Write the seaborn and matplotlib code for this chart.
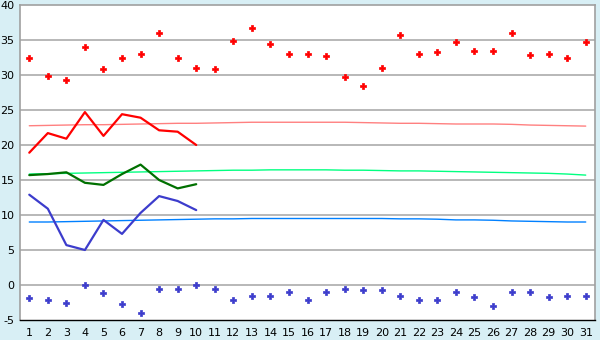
import matplotlib
matplotlib.use("Agg")
import matplotlib.pyplot as plt
import seaborn as sns
import numpy as np

days = list(range(1, 32))

max_temp = [32.4, 29.9, 29.3, 34.0, 30.9, 32.4, 33.0, 36.0, 32.4, 31.0,
            30.9, 34.9, 36.7, 34.4, 33.0, 33.0, 32.7, 29.7, 28.4, 31.0,
            35.7, 33.0, 33.3, 34.7, 33.4, 33.4, 36.0, 32.9, 33.0, 32.4, 34.7]
min_temp = [-1.9, -2.1, -2.6, 0.0, -1.1, -2.7, -4.0, -0.6, -0.6, 0.0,
            -0.6, -2.1, -1.6, -1.6, -1.0, -2.1, -1.0, -0.6, -0.7, -0.7,
            -1.6, -2.1, -2.1, -1.0, -1.7, -3.0, -1.0, -1.0, -1.7, -1.6, -1.6]

days_obs = list(range(1, 11))
avg_max = [18.9, 21.7, 20.9, 24.7, 21.3, 24.4, 23.9, 22.1, 21.9, 20.0]
avg_mean = [15.7, 15.85, 16.1, 14.6, 14.3, 15.85, 17.2, 15.0, 13.8, 14.4]
avg_min = [12.9, 10.9, 5.7, 5.0, 9.3, 7.3, 10.3, 12.7, 12.0, 10.7]

norm_max = [22.75, 22.8, 22.85, 22.9, 22.9, 22.95, 23.0, 23.05, 23.1, 23.1,
            23.15, 23.2, 23.25, 23.25, 23.25, 23.25, 23.25, 23.25, 23.2, 23.15,
            23.1, 23.1, 23.05, 23.0, 23.0, 23.0, 22.95, 22.85, 22.8, 22.75, 22.7]
norm_mean = [15.85, 15.9, 15.95, 16.0, 16.05, 16.1, 16.15, 16.2, 16.25, 16.3,
             16.35, 16.4, 16.4, 16.45, 16.45, 16.45, 16.45, 16.4, 16.4, 16.35,
             16.3, 16.3, 16.25, 16.2, 16.15, 16.1, 16.05, 16.0, 15.95, 15.85, 15.7]
norm_min = [9.0, 9.0, 9.05, 9.1, 9.15, 9.2, 9.25, 9.3, 9.35, 9.4,
            9.45, 9.45, 9.5, 9.5, 9.5, 9.5, 9.5, 9.5, 9.5, 9.5,
            9.45, 9.45, 9.4, 9.3, 9.3, 9.25, 9.15, 9.1, 9.05, 9.0, 9.0]

y_ticks = [-5, 0, 5, 10, 15, 20, 25, 30, 35, 40]

sns.set_style("white")
plt.rcParams['font.family'] = ['DejaVu Sans']

fig = plt.figure(figsize=(6.0, 3.4), dpi=100)
fig.patch.set_facecolor('#D8EFF5')
ax = fig.add_axes([20/600, 20/340, 575/600, 315/340])
ax.set_facecolor('white')

for yv in y_ticks[1:-1]:
    ax.axhline(yv, color='#ABABAB', lw=1.2, zorder=0)

sns.lineplot(x=days, y=norm_max, ax=ax, color='#FF8080', lw=1.0, zorder=2)
sns.lineplot(x=days, y=norm_mean, ax=ax, color='#00FF80', lw=1.0, zorder=2)
sns.lineplot(x=days, y=norm_min, ax=ax, color='#0080FF', lw=1.0, zorder=2)

sns.lineplot(x=days_obs, y=avg_max, ax=ax, color='#FF0000', lw=1.6, zorder=3)
sns.lineplot(x=days_obs, y=avg_mean, ax=ax, color='#007000', lw=1.6, zorder=3)
sns.lineplot(x=days_obs, y=avg_min, ax=ax, color='#3C3CCC', lw=1.6, zorder=3)

sns.scatterplot(x=days, y=max_temp, ax=ax, color='#FF0000', marker='P', s=16,
                linewidth=0.5, edgecolor='#FF0000', zorder=4)
sns.scatterplot(x=days, y=min_temp, ax=ax, color='#3C3CCC', marker='P', s=16,
                linewidth=0.5, edgecolor='#3C3CCC', zorder=4)

ax.set_xlim(0.5, 31.5)
ax.set_ylim(-5, 40)
ax.set_xticks(days)
ax.set_xticklabels([str(d) for d in days])
ax.set_yticks(y_ticks)
ax.set_yticklabels([str(v) for v in y_ticks])
ax.tick_params(axis='both', labelsize=8, colors='black', length=4, width=1,
               direction='out', pad=1.5)
ax.tick_params(axis='y', length=3, pad=1)

for side in ['top', 'right', 'left']:
    ax.spines[side].set_color('#A0A0A0')
    ax.spines[side].set_linewidth(1.2)
ax.spines['bottom'].set_color('black')
ax.spines['bottom'].set_linewidth(1.0)
ax.set_xlabel('')
ax.set_ylabel('')

fig.savefig('out.png', dpi=100, facecolor=fig.get_facecolor())
